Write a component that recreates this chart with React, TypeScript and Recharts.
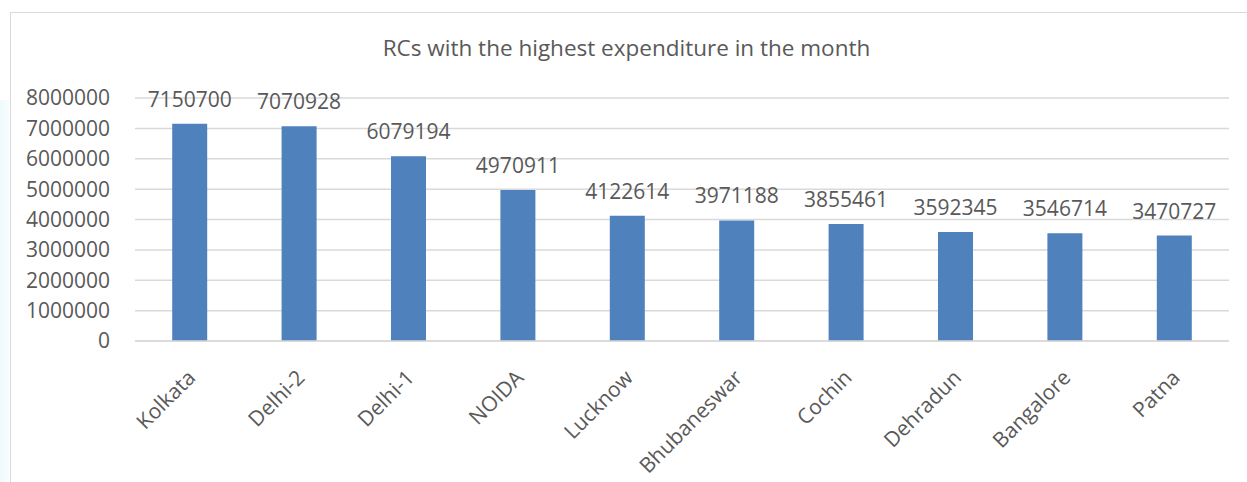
import React from 'react';
import { BarChart, Bar, XAxis, YAxis, CartesianGrid, LabelList } from 'recharts';

const regions = ['Kolkata', 'Delhi-2', 'Delhi-1', 'NOIDA', 'Lucknow', 'Bhubaneswar', 'Cochin', 'Dehradun', 'Bangalore', 'Patna'];
const expenditure = [7150700, 7070928, 6079194, 4970911, 4122614, 3971188, 3855461, 3592345, 3546714, 3470727];
const yTicks = [0, 1000000, 2000000, 3000000, 4000000, 5000000, 6000000, 7000000, 8000000];

const data = regions.map((name, i) => ({ name, value: expenditure[i] }));

const FONT = '"Open Sans", sans-serif';
const TEXT = '#595959';

const RotatedTick = (props: any) => {
  const { x, y, payload } = props;
  return (
    <text
      x={x + 7}
      y={y + 30}
      transform={`rotate(-45 ${x + 7} ${y + 30})`}
      textAnchor="end"
      fill={TEXT}
      fontSize={21}
      fontFamily={FONT}
    >
      {payload.value}
    </text>
  );
};

export default function App() {
  return (
    <div style={{ position: 'absolute', left: 0, top: 0, width: 1247, height: 482, background: '#fff', overflow: 'hidden' }}>
      <div style={{ position: 'absolute', left: 0, top: 100, width: 9, height: 400, background: 'linear-gradient(to right, #eefafd, #f7fdfe)' }} />
      <div style={{ position: 'absolute', left: 10, top: 12, width: 1300, height: 520, border: '1.5px solid #d9d9d9', background: '#fff' }} />
      <div style={{ position: 'absolute', left: 0, top: 32, width: 1247, textAlign: 'center', fontFamily: FONT, fontSize: 22.5, color: TEXT, paddingLeft: 3 }}>
        RCs with the highest expenditure in the month
      </div>
      <div style={{ position: 'absolute', left: 0, top: 0 }}>
        <BarChart width={1247} height={482} data={data} margin={{ top: 98, right: 18, left: 35, bottom: 21 }} barCategoryGap="34%">
          <CartesianGrid vertical={false} stroke="#d9d9d9" strokeWidth={1.5} />
          <XAxis
            dataKey="name"
            interval={0}
            height={120}
            tickLine={false}
            axisLine={{ stroke: '#d9d9d9', strokeWidth: 1.5 }}
            tick={<RotatedTick />}
          />
          <YAxis
            width={100}
            domain={[0, 8000000]}
            ticks={yTicks}
            interval={0}
            axisLine={false}
            tickLine={false}
            tickMargin={19}
            tick={{ fill: TEXT, fontSize: 21, fontFamily: FONT }}
          />
          <Bar dataKey="value" fill="#4f81bd" isAnimationActive={false}>
            <LabelList dataKey="value" position="top" offset={17} fill={TEXT} fontSize={21} fontFamily={FONT} />
          </Bar>
        </BarChart>
      </div>
    </div>
  );
}
